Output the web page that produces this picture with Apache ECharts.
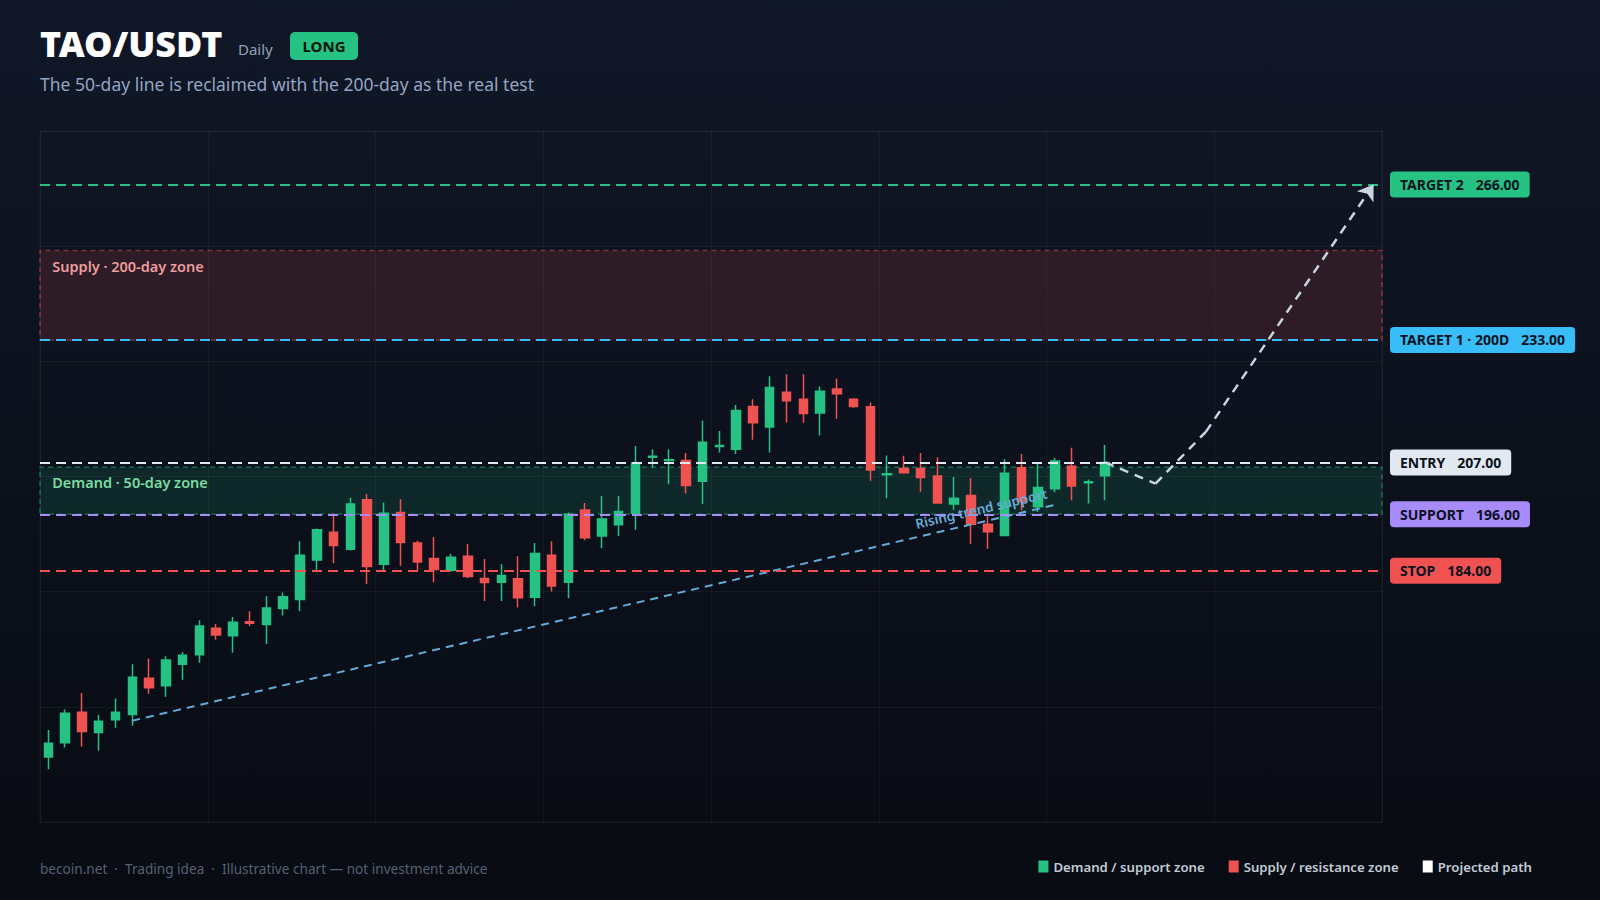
<!DOCTYPE html>
<html>
<head>
<meta charset="utf-8">
<script src="https://cdn.jsdelivr.net/npm/echarts@6/dist/echarts.min.js"></script>
<style>
html,body{margin:0;padding:0;background:#0c111d;}
#chart{width:1600px;height:900px;}
</style>
</head>
<body>
<div id="chart"></div>
<script>
// ---------- data ----------
const categories = Array.from({length: 80}, (_, i) => 'Day ' + (i + 1));
const opens  = [144.5,147.5,154.0,149.7,152.4,153.5,161.2,159.6,164.2,166.2,171.8,170.2,173.2,172.6,176.0,177.9,186.3,192.2,188.6,199.1,185.4,196.4,189.9,186.6,184.1,187.1,182.4,181.6,182.3,178.4,187.3,181.6,196.9,191.4,193.8,196.2,208.1,207.4,207.4,203.0,210.4,209.8,218.9,214.5,221.9,220.4,217.5,222.6,220.4,218.8,204.4,205.7,205.7,204.1,198.2,200.0,193.9,191.5,205.9,197.6,201.4,206.2,202.7,204.2];
const closes = [147.4,153.8,149.9,152.1,154.0,161.4,159.2,165.1,166.1,172.3,170.4,173.1,172.9,176.1,178.5,187.3,192.7,189.4,198.2,184.9,196.2,190.0,185.9,184.3,186.9,182.8,181.5,183.0,178.3,187.7,180.8,196.0,191.0,195.0,196.6,206.9,208.3,207.6,202.1,211.3,210.6,218.0,215.4,222.9,220.1,217.4,222.1,221.6,218.9,205.4,204.6,204.8,203.8,198.4,199.4,193.9,192.3,204.7,198.7,201.7,207.3,202.0,202.9,207.0];
const lows   = [141.9,146.5,146.7,145.8,150.7,151.1,157.9,157.3,160.9,164.5,169.4,166.6,172.3,168.5,174.5,175.4,183.7,185.6,188.3,181.2,184.2,185.1,184.0,181.6,183.8,182.5,177.6,177.6,176.2,176.5,179.6,178.2,190.5,188.8,191.4,192.7,205.9,202.4,200.4,198.2,209.1,208.8,211.8,209.1,215.5,215.4,212.7,216.3,218.6,203.1,199.4,204.6,200.8,198.4,196.9,189.7,188.7,191.5,196.8,196.5,200.7,199.0,198.3,199.0];
const highs  = [150.2,154.6,158.1,153.4,156.9,164.2,165.4,165.9,166.8,173.5,172.7,174.2,175.4,178.6,179.4,190.3,193.0,196.2,199.5,200.3,198.5,199.2,190.4,191.2,187.6,189.7,186.5,185.4,187.1,189.9,190.3,196.4,198.4,199.9,199.9,210.5,209.8,209.8,209.0,215.9,213.7,219.2,220.4,225.3,225.7,225.7,223.1,224.8,220.6,219.7,208.5,208.4,209.0,208.1,203.9,203.7,195.6,207.7,208.8,206.7,208.0,210.1,203.4,210.7];

const levelNames  = ['TARGET 2', 'TARGET 1 · 200D', 'ENTRY', 'SUPPORT', 'STOP'];
const levelValues = [266, 233, 207, 196, 184];

const demandZone = [196, 206];
const supplyZone = [233, 252];

const trendIdx = [5, 60];
const trendVal = [152.2, 198];

const projIdx = [63, 66, 69, 79];
const projVal = [207, 202.5, 213.5, 266];

const yMin = 130.7, yMax = 277.34;

// ---------- styles ----------
const GREEN = '#25c283', RED = '#f05252', BLUE = '#38bdf8', WHITE = '#e2e8f0', PURPLE = '#a78bfa';
const levelColors = [GREEN, BLUE, WHITE, PURPLE, RED];
const FONT = '"Noto Sans", "Open Sans", sans-serif';

const candleData = opens.map((o, i) => [o, closes[i], lows[i], highs[i]]);

const levelLines = levelValues.map((v, i) => ({
  yAxis: v,
  lineStyle: { color: levelColors[i], type: [10, 6], width: 2 },
  label: {
    show: true, position: 'end', distance: 8,
    formatter: '{n|' + levelNames[i] + '}{v|' + v.toFixed(2) + '}',
    backgroundColor: levelColors[i], borderRadius: 4, padding: [5, 10],
    rich: {
      n: { color: '#0b1220', fontSize: 14, fontWeight: 'bold', fontFamily: FONT, lineHeight: 16 },
      v: { color: '#0b1220', fontSize: 14, fontWeight: 'bold', fontFamily: FONT, lineHeight: 16, padding: [0, 0, 0, 12] }
    }
  }
}));

const projSegments = [];
for (let i = 0; i < projIdx.length - 1; i++) {
  const last = i === projIdx.length - 2;
  projSegments.push([
    { coord: [projIdx[i], projVal[i]], symbol: 'none' },
    { coord: [projIdx[i + 1], projVal[i + 1]], symbol: last ? 'arrow' : 'none', symbolSize: last ? 15 : 0 }
  ]);
}

const chart = echarts.init(document.getElementById('chart'), null, { renderer: 'svg' });
chart.setOption({
  animation: false,
  backgroundColor: {
    type: 'linear', x: 0, y: 0, x2: 0, y2: 1,
    colorStops: [{ offset: 0, color: '#101727' }, { offset: 1, color: '#080b12' }]
  },
  grid: {
    left: 40, right: 218, top: 131, bottom: 78,
    show: true, borderColor: 'rgba(255,255,255,0.05)', borderWidth: 1, backgroundColor: 'transparent'
  },
  xAxis: {
    type: 'category', data: categories, boundaryGap: true,
    axisLine: { show: false }, axisTick: { show: false }, axisLabel: { show: false },
    splitLine: { show: true, interval: (idx) => idx % 10 === 0, lineStyle: { color: 'rgba(255,255,255,0.045)', width: 1 } }
  },
  yAxis: {
    type: 'value', min: yMin, max: yMax, interval: (yMax - yMin) / 6, scale: true,
    axisLine: { show: false }, axisTick: { show: false }, axisLabel: { show: false },
    splitLine: { show: true, lineStyle: { color: 'rgba(255,255,255,0.045)', width: 1 } }
  },
  legend: {
    data: ['Demand / support zone', 'Supply / resistance zone', 'Projected path'],
    right: 63, top: 855, icon: 'rect', itemWidth: 10, itemHeight: 12, itemGap: 24,
    selectedMode: false,
    textStyle: { color: '#c3cbd6', fontSize: 13.2, fontFamily: FONT, fontWeight: 600 }
  },
  graphic: [
    { type: 'text', x: 40, y: 42.5, style: { text: 'TAO/USDT', fill: '#ffffff', font: '900 35.8px ' + FONT, textVerticalAlign: 'middle' } },
    { type: 'text', x: 238, y: 48.5, style: { text: 'Daily', fill: '#8fa0ba', font: '15px ' + FONT, textVerticalAlign: 'middle' } },
    { type: 'rect', shape: { x: 290, y: 32, width: 68, height: 28, r: 5 }, style: { fill: GREEN } },
    { type: 'text', x: 324, y: 46, style: { text: 'LONG', fill: '#06140e', font: 'bold 15px ' + FONT, textAlign: 'center', textVerticalAlign: 'middle' } },
    { type: 'text', x: 40, y: 84, style: { text: 'The 50-day line is reclaimed with the 200-day as the real test', fill: '#93a5c2', font: '17.5px ' + FONT, textVerticalAlign: 'middle' } },
    { type: 'text', x: 40, y: 868, style: { text: 'becoin.net  ·  Trading idea  ·  Illustrative chart — not investment advice', fill: '#566174', font: '13.6px ' + FONT, textVerticalAlign: 'middle' } }
  ],
  series: [
    {
      name: 'Demand / support zone', type: 'line', data: [], z: 1,
      itemStyle: { color: GREEN }, lineStyle: { color: GREEN },
      markArea: {
        silent: true,
        data: [[
          { name: 'Demand · 50-day zone', yAxis: demandZone[0],
            itemStyle: { color: 'rgba(37,194,131,0.14)', borderColor: 'rgba(37,194,131,0.45)', borderWidth: 1.5, borderType: [5, 4] },
            label: { show: true, position: 'insideTopLeft', distance: 0, offset: [13, 8], color: '#7bdca2', fontSize: 14.5, fontWeight: 600, fontFamily: FONT } },
          { yAxis: demandZone[1] }
        ]]
      }
    },
    {
      name: 'Supply / resistance zone', type: 'line', data: [], z: 1,
      itemStyle: { color: RED }, lineStyle: { color: RED },
      markArea: {
        silent: true,
        data: [[
          { name: 'Supply · 200-day zone', yAxis: supplyZone[0],
            itemStyle: { color: 'rgba(239,79,79,0.14)', borderColor: 'rgba(239,79,79,0.45)', borderWidth: 1.5, borderType: [5, 4] },
            label: { show: true, position: 'insideTopLeft', distance: 0, offset: [13, 9], color: '#eb9c9c', fontSize: 14.5, fontWeight: 600, fontFamily: FONT } },
          { yAxis: supplyZone[1] }
        ]]
      }
    },
    {
      name: 'trend', type: 'line', data: [], z: 2,
      markLine: {
        silent: true, symbol: ['none', 'none'],
        lineStyle: { color: '#64aad8', type: [8, 6], width: 2 },
        label: { show: true, position: 'insideEndTop', distance: [5, 6], formatter: 'Rising trend support', color: '#6aaad8', fontSize: 13.5, fontWeight: 600, fontFamily: FONT },
        data: [[{ coord: [trendIdx[0], trendVal[0]] }, { coord: [trendIdx[1], trendVal[1]] }]]
      }
    },
    {
      name: 'TAO/USDT', type: 'candlestick', data: candleData, z: 3, barWidth: 9,
      itemStyle: { color: GREEN, color0: RED, borderColor: GREEN, borderColor0: RED, borderWidth: 1.5 }
    },
    {
      name: 'levels', type: 'line', data: [], z: 4,
      markLine: { silent: true, symbol: ['none', 'none'], data: levelLines }
    },
    {
      name: 'Projected path', type: 'line', z: 5,
      data: [[projIdx[0], projVal[0]]],
      symbol: 'circle', symbolSize: 12, showSymbol: true,
      itemStyle: { color: '#ffffff' }, lineStyle: { color: WHITE },
      markLine: {
        silent: true, symbol: ['none', 'none'], symbolSize: 15,
        lineStyle: { color: '#cbd5e1', type: [9, 7], width: 2.5 },
        itemStyle: { color: '#cbd5e1' },
        label: { show: false },
        data: projSegments
      }
    }
  ]
});
</script>
</body>
</html>
